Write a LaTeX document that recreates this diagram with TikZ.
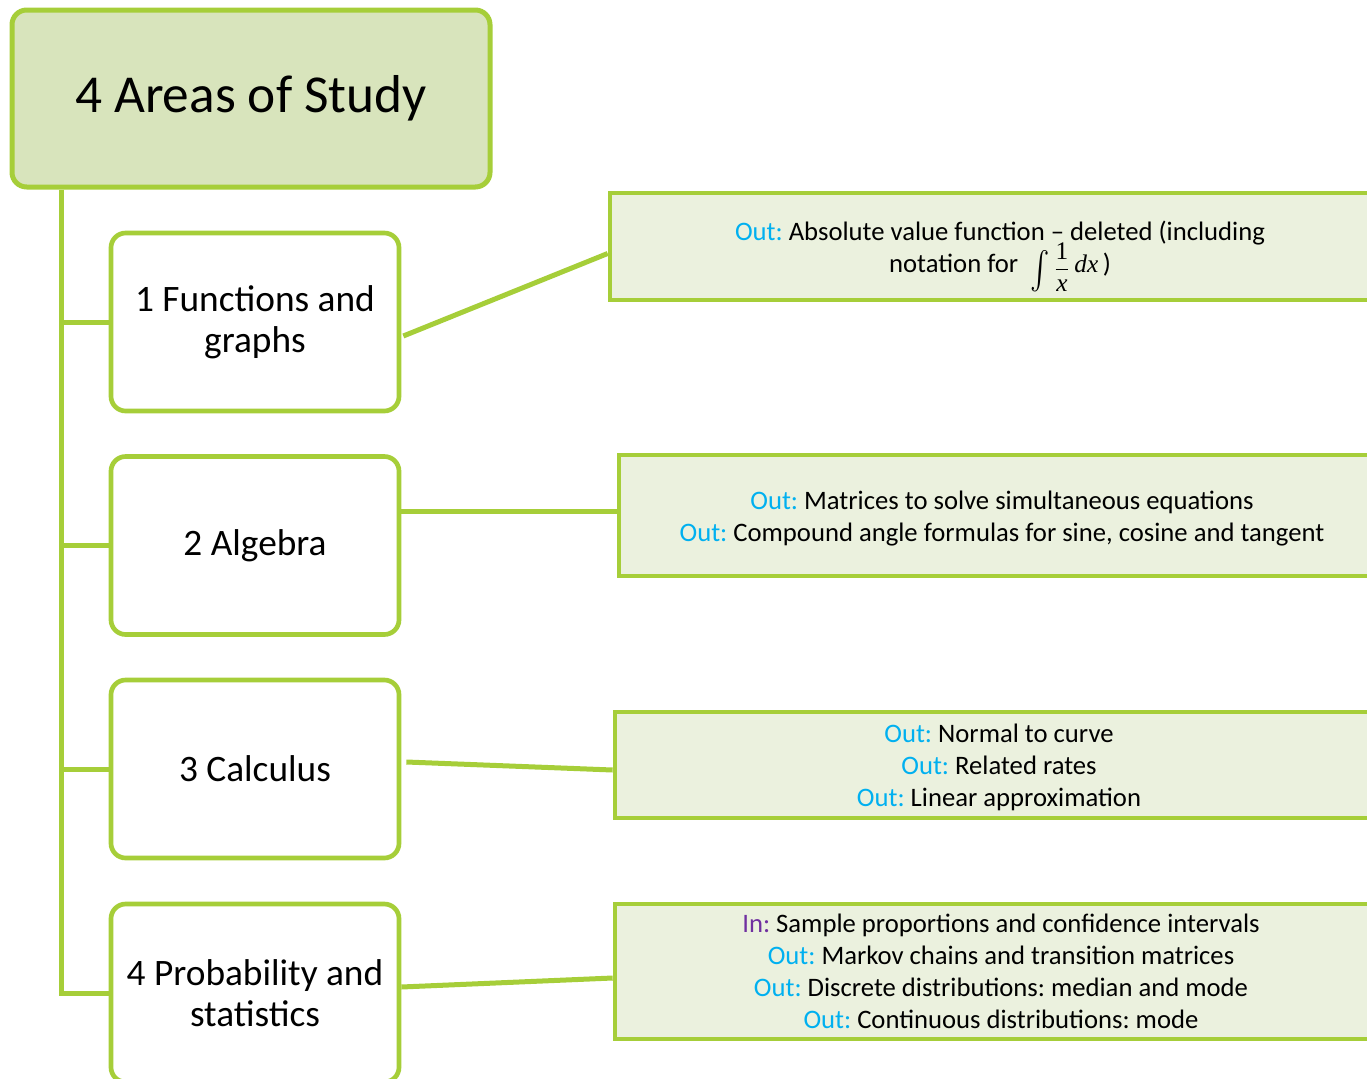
\documentclass[tikz,border=0pt]{standalone}
\usepackage{exscale}
\usepackage{fontspec}
\setmainfont{Carlito}
\newfontfamily\tms{Liberation Serif}
\usetikzlibrary{calc}
\frenchspacing
\definecolor{lgreen}{RGB}{166,206,57}
\definecolor{titlefill}{RGB}{216,228,188}
\definecolor{notefill}{RGB}{235,241,222}
\definecolor{outcol}{RGB}{0,176,240}
\definecolor{incol}{RGB}{112,48,160}
\newcommand{\outlbl}{\textcolor{outcol}{Out:}}
\newcommand{\inlbl}{\textcolor{incol}{In:}}
\newcommand{\intexpr}{\raisebox{0pt}[0pt][0pt]{\raisebox{-6pt}{\scalebox{1.05}[1.35]{$\int$}}\,\raisebox{-2pt}{\fontsize{19}{19}\selectfont$\displaystyle\frac{\hbox{\tms 1}}{\hbox{\tms\itshape x}}$}\,{\fontsize{19}{19}\selectfont\tms\itshape dx\/}}}
\tikzset{
  titlebox/.style={draw=lgreen, fill=titlefill, line width=3.75pt, rounded corners=11pt,
    minimum width=478*0.75pt, minimum height=177*0.75pt, inner sep=0pt,
    font=\fontsize{40}{48}\selectfont},
  areabox/.style={draw=lgreen, fill=white, line width=3.5pt, rounded corners=11pt,
    minimum width=288*0.75pt, minimum height=178*0.75pt, inner sep=0pt, align=center,
    font=\fontsize{28}{30.8}\selectfont},
  notebox/.style={draw=lgreen, fill=notefill, line width=3.5pt, inner sep=0pt, align=center,
    font=\fontsize{20}{24}\selectfont},
  link/.style={draw=lgreen, line width=3.75pt}
}
\begin{document}
\begin{tikzpicture}[x=0.75pt,y=-0.75pt]
\useasboundingbox (0,0) rectangle (1367,1078);
\clip (0,0) rectangle (1367,1078);
\node[titlebox] (title) at (251,98.5) {4 Areas of Study};
\node[areabox] (c1) at (255,322) {1 Functions and\\graphs};
\node[areabox] (c2) at (255,545.5) {2 Algebra};
\node[areabox] (c3) at (255,769) {3 Calculus};
\node[areabox] (c4) at (255,993) {4 Probability and\\statistics};
\node[notebox, minimum width=780*0.75pt, minimum height=107*0.75pt] (nA) at (1000,246.5)
  {\rule{0pt}{18pt}\outlbl{} Absolute value function -- deleted (including\\notation for \ \intexpr\,)};
\node[notebox, minimum width=766*0.75pt, minimum height=121*0.75pt] (nB) at (1002,515.5)
  {\rule{0pt}{18pt}\outlbl{} Matrices to solve simultaneous equations\\\outlbl{} Compound angle formulas for sine, cosine and tangent};
\node[notebox, minimum width=768*0.75pt, minimum height=106*0.75pt] (nC) at (999,765)
  {\rule{0pt}{18pt}\outlbl{} Normal to curve\\\outlbl{} Related rates\\\outlbl{} Linear approximation};
\node[notebox, minimum width=772*0.75pt, minimum height=135*0.75pt] (nD) at (1001,971.5)
  {\inlbl{} Sample proportions and confidence intervals\\\outlbl{} Markov chains and transition matrices\\\outlbl{} Discrete distributions: median and mode\\\outlbl{} Continuous distributions: mode};
\coordinate (trunk) at (61,0);
\draw[link] (trunk |- title.south) -- (trunk |- c4.west) -- (c4.west);
\draw[link] (trunk |- c1.west) -- (c1.west);
\draw[link] (trunk |- c2.west) -- (c2.west);
\draw[link] (trunk |- c3.west) -- (c3.west);
\draw[link] ($(c1.east)+(2,14)$) -- ($(nA.west)+(0,7)$);
\draw[link] ($(c2.east)+(0,-34.5)$) -- ($(nB.west)+(0,-4.5)$);
\draw[link] ($(c3.east)+(5,-7)$) -- ($(nC.west)+(0,5)$);
\draw[link] ($(c4.east)+(0,-6)$) -- ($(nD.west)+(0,6.5)$);
\end{tikzpicture}
\end{document}
